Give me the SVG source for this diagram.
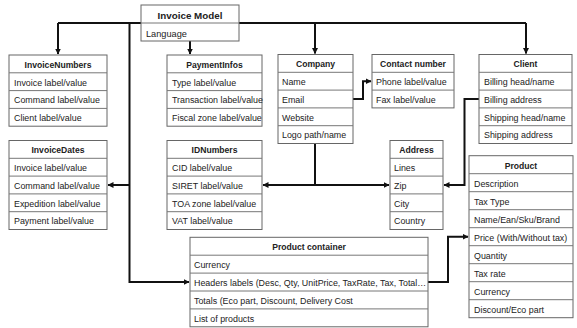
<svg xmlns="http://www.w3.org/2000/svg" width="577" height="328" viewBox="0 0 577 328">
<style>
.b{fill:#fff;stroke:#666;stroke-width:1}
.d{stroke:#777;stroke-width:1}
.t{font-family:"Liberation Sans",Arial,sans-serif;font-size:8.9px;fill:#222}
.h{font-family:"Liberation Sans",Arial,sans-serif;font-size:8.6px;font-weight:bold;fill:#222;text-anchor:middle}
.c{fill:none;stroke:#111;stroke-width:2}
</style>
<defs>
<marker id="a" markerUnits="userSpaceOnUse" markerWidth="7" markerHeight="7" refX="5.5" refY="3" orient="auto">
<path d="M0,0 L6,3 L0,6 Z" fill="#111"/>
</marker>
</defs>
<rect width="577" height="328" fill="#fff"/>
<g id="connectors">
<path class="c" d="M58,23 H526"/>
<path class="c" d="M58,23 V54" marker-end="url(#a)"/>
<path class="c" d="M315,23 V53.5" marker-end="url(#a)"/>
<path class="c" d="M526,23 V53.5" marker-end="url(#a)"/>
<path class="c" d="M190,41 V54" marker-end="url(#a)"/>
<path class="c" d="M129.5,23 V282 H189" marker-end="url(#a)"/>
<path class="c" d="M129.5,185 H108" marker-end="url(#a)"/>
<path class="c" d="M315,143.5 V185"/>
<path class="c" d="M315,185 H263" marker-end="url(#a)"/>
<path class="c" d="M315,185 H389" marker-end="url(#a)"/>
<path class="c" d="M353,99 H363 V81.2 H371" marker-end="url(#a)"/>
<path class="c" d="M479,99 H464.5 V185 H444" marker-end="url(#a)"/>
<path class="c" d="M428,282 H448 V236.7 H468" marker-end="url(#a)"/>
</g>
<g id="invoice-model">
<rect class="b" x="141" y="5" width="98" height="36"/>
<line class="d" x1="141" y1="23" x2="239" y2="23"/>
<text class="h" x="190" y="19" style="font-size:9.8px">Invoice Model</text>
<text class="t" x="146" y="36.5" style="font-size:9.2px">Language</text>
</g>
<g id="invoice-numbers">
<rect class="b" x="9" y="55" width="98" height="71.2"/>
<line class="d" x1="9" y1="72.8" x2="107" y2="72.8"/>
<line class="d" x1="9" y1="90.6" x2="107" y2="90.6"/>
<line class="d" x1="9" y1="108.4" x2="107" y2="108.4"/>
<text class="h" x="58" y="67.6">InvoiceNumbers</text>
<text class="t" x="14" y="85.5">Invoice label/value</text>
<text class="t" x="14" y="103.3">Command label/value</text>
<text class="t" x="14" y="121.1">Client label/value</text>
</g>
<g id="invoice-dates">
<rect class="b" x="9" y="140.5" width="98" height="89"/>
<line class="d" x1="9" y1="158.3" x2="107" y2="158.3"/>
<line class="d" x1="9" y1="176.1" x2="107" y2="176.1"/>
<line class="d" x1="9" y1="193.9" x2="107" y2="193.9"/>
<line class="d" x1="9" y1="211.7" x2="107" y2="211.7"/>
<text class="h" x="58" y="153.1">InvoiceDates</text>
<text class="t" x="14" y="171">Invoice label/value</text>
<text class="t" x="14" y="188.8">Command label/value</text>
<text class="t" x="14" y="206.6">Expedition label/value</text>
<text class="t" x="14" y="224.4">Payment label/value</text>
</g>
<g id="payment-infos">
<rect class="b" x="167" y="55" width="95" height="71.2"/>
<line class="d" x1="167" y1="72.8" x2="262" y2="72.8"/>
<line class="d" x1="167" y1="90.6" x2="262" y2="90.6"/>
<line class="d" x1="167" y1="108.4" x2="262" y2="108.4"/>
<text class="h" x="214.5" y="67.6">PaymentInfos</text>
<text class="t" x="172" y="85.5">Type label/value</text>
<text class="t" x="172" y="103.3">Transaction label/value</text>
<text class="t" x="172" y="121.1">Fiscal zone label/value</text>
</g>
<g id="id-numbers">
<rect class="b" x="167" y="140.5" width="95" height="89"/>
<line class="d" x1="167" y1="158.3" x2="262" y2="158.3"/>
<line class="d" x1="167" y1="176.1" x2="262" y2="176.1"/>
<line class="d" x1="167" y1="193.9" x2="262" y2="193.9"/>
<line class="d" x1="167" y1="211.7" x2="262" y2="211.7"/>
<text class="h" x="214.5" y="153.1">IDNumbers</text>
<text class="t" x="172" y="171">CID label/value</text>
<text class="t" x="172" y="188.8">SIRET label/value</text>
<text class="t" x="172" y="206.6">TOA zone label/value</text>
<text class="t" x="172" y="224.4">VAT label/value</text>
</g>
<g id="company">
<rect class="b" x="278" y="54.5" width="75" height="89"/>
<line class="d" x1="278" y1="72.3" x2="353" y2="72.3"/>
<line class="d" x1="278" y1="90.1" x2="353" y2="90.1"/>
<line class="d" x1="278" y1="107.9" x2="353" y2="107.9"/>
<line class="d" x1="278" y1="125.7" x2="353" y2="125.7"/>
<text class="h" x="315.5" y="67.1">Company</text>
<text class="t" x="282" y="85">Name</text>
<text class="t" x="282" y="102.8">Email</text>
<text class="t" x="282" y="120.6">Website</text>
<text class="t" x="282" y="138.4">Logo path/name</text>
</g>
<g id="contact-number">
<rect class="b" x="372" y="54.5" width="82" height="53.4"/>
<line class="d" x1="372" y1="72.3" x2="454" y2="72.3"/>
<line class="d" x1="372" y1="90.1" x2="454" y2="90.1"/>
<text class="h" x="413" y="67.1">Contact number</text>
<text class="t" x="376" y="85">Phone label/value</text>
<text class="t" x="376" y="102.8">Fax label/value</text>
</g>
<g id="client">
<rect class="b" x="479" y="54.5" width="93" height="89"/>
<line class="d" x1="479" y1="72.3" x2="572" y2="72.3"/>
<line class="d" x1="479" y1="90.1" x2="572" y2="90.1"/>
<line class="d" x1="479" y1="107.9" x2="572" y2="107.9"/>
<line class="d" x1="479" y1="125.7" x2="572" y2="125.7"/>
<text class="h" x="525.5" y="67.1">Client</text>
<text class="t" x="484" y="85">Billing head/name</text>
<text class="t" x="484" y="102.8">Billing address</text>
<text class="t" x="484" y="120.6">Shipping head/name</text>
<text class="t" x="484" y="138.4">Shipping address</text>
</g>
<g id="address">
<rect class="b" x="390" y="140.5" width="53" height="89"/>
<line class="d" x1="390" y1="158.3" x2="443" y2="158.3"/>
<line class="d" x1="390" y1="176.1" x2="443" y2="176.1"/>
<line class="d" x1="390" y1="193.9" x2="443" y2="193.9"/>
<line class="d" x1="390" y1="211.7" x2="443" y2="211.7"/>
<text class="h" x="416.5" y="153.1">Address</text>
<text class="t" x="394" y="171">Lines</text>
<text class="t" x="394" y="188.8">Zip</text>
<text class="t" x="394" y="206.6">City</text>
<text class="t" x="394" y="224.4">Country</text>
</g>
<g id="product">
<rect class="b" x="469" y="155.7" width="104" height="162"/>
<line class="d" x1="469" y1="173.7" x2="573" y2="173.7"/>
<line class="d" x1="469" y1="191.7" x2="573" y2="191.7"/>
<line class="d" x1="469" y1="209.7" x2="573" y2="209.7"/>
<line class="d" x1="469" y1="227.7" x2="573" y2="227.7"/>
<line class="d" x1="469" y1="245.7" x2="573" y2="245.7"/>
<line class="d" x1="469" y1="263.7" x2="573" y2="263.7"/>
<line class="d" x1="469" y1="281.7" x2="573" y2="281.7"/>
<line class="d" x1="469" y1="299.7" x2="573" y2="299.7"/>
<text class="h" x="521" y="168.5">Product</text>
<text class="t" x="474" y="186.5">Description</text>
<text class="t" x="474" y="204.5">Tax Type</text>
<text class="t" x="474" y="222.5">Name/Ean/Sku/Brand</text>
<text class="t" x="474" y="240.5">Price (With/Without tax)</text>
<text class="t" x="474" y="258.5">Quantity</text>
<text class="t" x="474" y="276.5">Tax rate</text>
<text class="t" x="474" y="294.5">Currency</text>
<text class="t" x="474" y="312.5">Discount/Eco part</text>
</g>
<g id="product-container">
<rect class="b" x="190" y="237.3" width="238" height="89.5"/>
<line class="d" x1="190" y1="255.2" x2="428" y2="255.2"/>
<line class="d" x1="190" y1="273.1" x2="428" y2="273.1"/>
<line class="d" x1="190" y1="291" x2="428" y2="291"/>
<line class="d" x1="190" y1="308.9" x2="428" y2="308.9"/>
<text class="h" x="309" y="250">Product container</text>
<text class="t" x="194" y="268">Currency</text>
<text class="t" x="194" y="285.9">Headers labels (Desc, Qty, UnitPrice, TaxRate, Tax, Total…</text>
<text class="t" x="194" y="303.8">Totals (Eco part, Discount, Delivery Cost</text>
<text class="t" x="194" y="321.7">List of products</text>
</g>
</svg>
